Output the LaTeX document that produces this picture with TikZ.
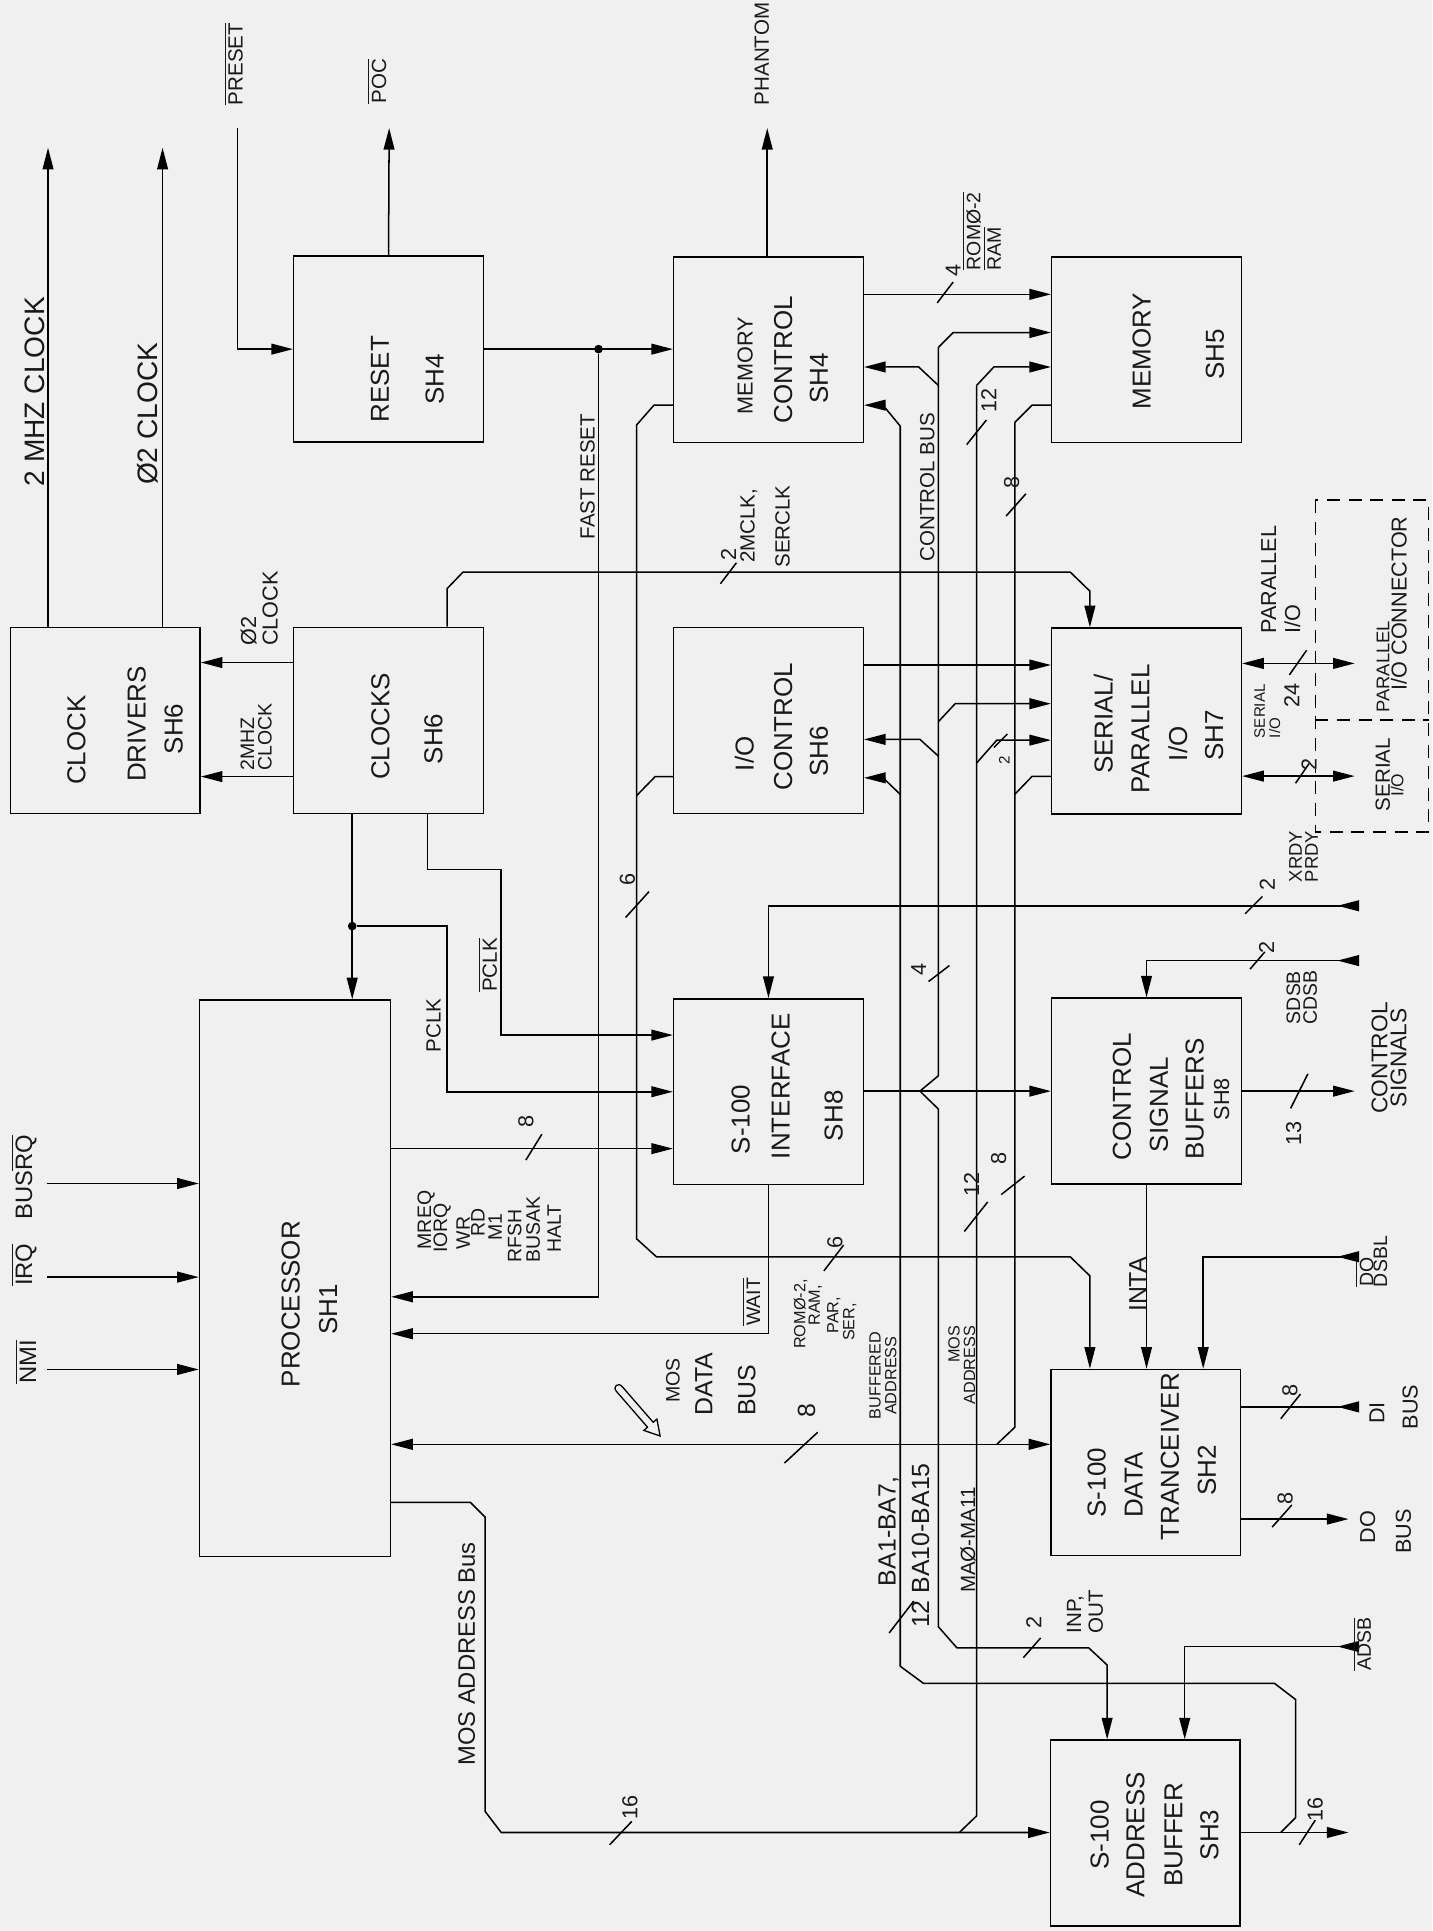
\documentclass[tikz,border=0pt]{standalone}
\usepackage{fontspec}
\setmainfont{Liberation Sans}
\usetikzlibrary{arrows.meta}
\newcounter{txn}
\newcommand\RT[4][]{\stepcounter{txn}\edef\tmpname{tx\arabic{txn}}\node[rt,#1] (\tmpname) at (#2,#3) {#4};}
\newcommand\OL[1]{$\overline{\mbox{#1}}$}
\newcommand\SL[4]{\draw (#1,#2) -- (#3,#4);}
\begin{document}
\begin{tikzpicture}[x=0.02cm,y=-0.02cm,line width=0.7pt,
  blk/.style={draw,minimum width=3.08cm,minimum height=3.02cm,inner sep=0pt},
  arr/.style={-{Triangle[length=10pt,width=5pt]}},
  darr/.style={{Triangle[length=10pt,width=5pt]}-{Triangle[length=10pt,width=5pt]}},
  rt/.style={rotate=90,inner sep=0pt,align=center,text=black!90},
  fb/.style={font=\fontsize{12}{13}\selectfont},
  fbs/.style={font=\fontsize{10}{11}\selectfont},
  fl/.style={font=\fontsize{13}{14}\selectfont},
  fbl/.style={font=\fontsize{11.5}{12}\selectfont},
  fmos/.style={font=\fontsize{11}{12}\selectfont},
  fm/.style={font=\fontsize{9.5}{10}\selectfont},
  fs9/.style={font=\fontsize{9}{7}\selectfont},
  fs/.style={font=\fontsize{7.5}{7.2}\selectfont},
  fn/.style={font=\fontsize{10}{11}\selectfont},
  fns/.style={font=\fontsize{7}{8}\selectfont},
  dbox/.style={dash pattern=on 6pt off 4pt},
  jdot/.style={circle,fill,inner sep=0pt,minimum size=4pt}]
\fill[black!6] (0,0) rectangle (1163,1568);
\useasboundingbox (0,0) rectangle (1163,1568);

% ---------------- blocks
\node[blk] (cdrv) at (85.5,585) {};
\node[blk] (clk) at (315.5,585) {};
\node[blk] (reset) at (315.5,283.5) {};
\node[blk] (memc) at (624,284) {};
\node[blk] (mem) at (931,284) {};
\node[blk] (ioc) at (624,585) {};
\node[blk] (sp) at (931,585.5) {};
\node[draw,minimum width=3.1cm,minimum height=9.04cm,inner sep=0pt] (proc) at (239.5,1038) {};
\node[blk] (s100i) at (624,886.5) {};
\node[blk] (csb) at (931,886) {};
\node[blk] (dtr) at (930.5,1187.5) {};
\node[blk] (abuf) at (930,1488.5) {};
\draw[dbox] (1068,406) rectangle (1160,675.4);
\draw[dbox] (1068,584.7) -- (1160,584.7);

% ---------------- block texts
\RT[fb]{62}{601}{CLOCK}
\RT[fb]{111}{588}{DRIVERS}
\RT[fb]{141}{592}{SH6}
\RT[fb]{309}{590}{CLOCKS}
\RT[fb]{352}{600}{SH6}
\RT[fb]{308.5}{308}{RESET}
\RT[fb]{353}{308}{SH4}
\RT[fbs]{605}{297}{MEMORY}
\RT[fb]{636}{292}{CONTROL}
\RT[fb]{665}{307}{SH4}
\RT[fb]{927}{285}{MEMORY}
\RT[fb]{986.5}{288}{SH5}
\RT[fb]{604.5}{612}{I/O}
\RT[fb]{636}{590}{CONTROL}
\RT[fb]{665}{610}{SH6}
\RT[fb]{896}{588}{SERIAL/}
\RT[fb]{926}{592}{PARALLEL}
\RT[fb]{956.5}{604}{I/O}
\RT[fb]{986}{597}{SH7}
\RT[fb]{236}{1059}{PROCESSOR}
\RT[fb]{266.5}{1063}{SH1}
\RT[fb]{601.5}{909}{S-100}
\RT[fb]{634}{882}{INTERFACE}
\RT[fb]{677}{906}{SH8}
\RT[fb]{911}{890.5}{CONTROL}
\RT[fb]{941}{897}{SIGNAL}
\RT[fb]{970}{892.5}{BUFFERS}
\RT[fbs]{992}{892.5}{SH8}
\RT[fb]{890.5}{1204}{S-100}
\RT[fb]{920.5}{1206}{DATA}
\RT[fb]{950}{1183}{TRANCEIVER}
\RT[fb]{980}{1194}{SH2}
\RT[fb]{893}{1490}{S-100}
\RT[fb]{922}{1490}{ADDRESS}
\RT[fb]{953}{1490}{BUFFER}
\RT[fb]{982}{1490}{SH3}

% ---------------- top outputs and reset
\coordinate (o2mhz) at (39,120);
\draw[arr] (cdrv.north -| 39,0) -- (o2mhz);
\coordinate (ophi) at (132,120);
\draw[arr] (cdrv.north -| 132,0) -- (ophi);
\RT[fl,anchor=south]{37}{318}{2 MHZ CLOCK}
\RT[fl,anchor=south]{129}{336}{Ø2 CLOCK}
\coordinate (ipreset) at (193,104);
\draw[arr] (ipreset) |- (reset.west);
\RT[fm]{189.5}{52}{\OL{PRESET}}
\coordinate (opoc) at (316,104);
\draw[arr] (reset.north) -- (opoc);
\RT[fm]{306}{66}{\OL{POC}}
\coordinate (ophan) at (623,104);
\draw[arr] (memc.north -| 623,0) -- (ophan);
\RT[fm,anchor=west]{618.5}{86}{PHANTOM}

\draw[arr] (reset.east) -- (memc.west |- reset.east);
\node[jdot] (jfr) at (486,283.5) {};
\draw[arr] (jfr) |- (proc.east |- 0,1053);
\RT[fm]{477}{387}{FAST RESET}

% ---------------- clocks
\draw[arr] (clk.west |- 0,538) -- (cdrv.east |- 0,538);
\draw[arr] (clk.west |- 0,630.6) -- (cdrv.east |- 0,630.6);
\RT[font=\fontsize{10}{10}\selectfont,align=left,anchor=west]{210.5}{525}{Ø2\\CLOCK}
\RT[font=\fontsize{9}{8}\selectfont,align=left,anchor=west]{208}{626}{2MHZ\\CLOCK}
\draw[arr] (clk.north -| 363,0) -- (363,478) -- (376,464.5) -- (869,464.5) -- (885,480) -- (sp.north -| 885,0);
\SL{585}{474}{598}{457}
\RT[fn]{591.5}{450}{2}
\RT[fm]{608}{427}{2MCLK,}
\RT[fm]{635.5}{427.5}{SERCLK}
\draw[arr] (clk.south -| 286,0) -- (proc.north -| 286,0);
\node[jdot] (jclk) at (286,752) {};
\draw[arr] (jclk) -- (363,752) |- (s100i.west);
\RT[fm]{352}{832.5}{PCLK}
\draw[arr] (clk.south -| 347,0) -- (347,706) -- (407,706) |- (s100i.west |- 0,840.5);
\RT[fm]{396}{783.5}{\OL{PCLK}}

% ---------------- processor inputs
\draw[arr] (38,961) -- (proc.west |- 0,961);
\draw[arr] (38,1037) -- (proc.west |- 0,1037);
\draw[arr] (38,1112) -- (proc.west |- 0,1112);
\RT[fmos]{19.5}{956}{BUS$\overline{\mbox{RQ}}$}
\RT[fmos]{19.5}{1027}{\OL{IRQ}}
\RT[fmos]{21}{1106}{\OL{NMI}}

% ---------------- processor outputs
\draw[arr] (proc.east |- 0,932.7) -- (s100i.west |- 0,932.7);
\SL{427}{942}{440}{921}
\RT[fn]{427}{911}{8}
\RT[font=\fontsize{9}{9}\selectfont,anchor=west]{346}{1015}{MREQ}
\RT[font=\fontsize{9}{9}\selectfont,anchor=west]{359}{1018}{IORQ}
\RT[font=\fontsize{9}{9}\selectfont,anchor=west]{376}{1015}{WR}
\RT[font=\fontsize{9}{9}\selectfont,anchor=west]{388}{1005}{RD}
\RT[font=\fontsize{9}{9}\selectfont,anchor=west]{402}{1008}{M1}
\RT[font=\fontsize{9}{9}\selectfont,anchor=west]{418}{1026}{RFSH}
\RT[font=\fontsize{9}{9}\selectfont,anchor=west]{433}{1026}{BUSAK}
\RT[font=\fontsize{9}{9}\selectfont,anchor=west]{450}{1018}{HALT}
\draw[arr] (s100i.south) |- (proc.east |- 0,1083);
\RT[fs9]{610}{1057}{\OL{WAIT}}
\draw[darr] (proc.east |- 0,1172.8) -- (dtr.west |- 0,1172.8);
\RT[fs9]{546.5}{1121}{MOS}
\RT[fbl]{571.5}{1124}{DATA}
\RT[fbl]{606.5}{1129}{BUS}
\fill[black!6] (505.3,1126) -- (530.4,1154.9) -- (533.4,1152.3) -- (536,1166) -- (522.8,1161.5) -- (525.8,1158.9) -- (500.7,1130) .. controls (497,1126) and (502,1122) .. cycle;
\draw[line width=0.6pt] (505.3,1126) -- (530.4,1154.9) -- (533.4,1152.3) -- (536,1166) -- (522.8,1161.5) -- (525.8,1158.9) -- (500.7,1130) .. controls (497,1126) and (502,1122) .. cycle;
\SL{637}{1188}{664}{1163}
\RT[fbl]{655}{1145.5}{8}
\draw[arr] (proc.east |- 0,1220) -- (382,1220) -- (394,1232) -- (394,1471) -- (407,1488) -- (abuf.west |- 0,1488);
\RT[fmos]{379}{1343}{MOS ADDRESS Bus}
\SL{495}{1498}{513}{1479}
\RT[fn]{511.5}{1468}{16}

% ---------------- chip select bus (x=517)
\draw[arr] (memc.west |- 0,329) -- (531,329) -- (517,345) -- (517,1006) -- (533,1020.5) -- (869,1020.5) -- (885,1036) -- (dtr.north -| 885,0);
\draw (ioc.west |- 0,630.6) -- (532,630.6) -- (517,646);
\SL{508}{745}{527}{724}
\RT[fn]{509.5}{714}{6}
\SL{669}{1032}{685}{1011}
\RT[fn]{678}{1008.5}{6}
\RT[fs]{650}{1067}{ROMØ-2,}
\RT[fs]{662}{1060}{RAM,}
\RT[fs]{677}{1068}{PAR,}
\RT[fs]{690}{1073.5}{SER,}

% ---------------- buffered address bus (x=731)
\draw[arr] (731,346) -- (717,329) -- (memc.east |- 0,329);
\draw[arr] (731,645) -- (717,631.6) -- (ioc.east |- 0,631.6);
\draw (731,346) -- (731,1353) -- (750,1367) -- (1035,1367) -- (1052,1380) -- (1052,1476) -- (1040,1488);
\RT[fs]{717}{1117}{BUFFERED\\ADDRESS}
\RT[fbl]{721.5}{1243.5}{BA1-BA7,}
\RT[fbl]{747.5}{1255}{12 BA10-BA15}
\SL{722}{1326}{742}{1300}

% ---------------- control bus (x=762)
\draw[arr] (762,282) -- (774,270) -- (mem.west |- 0,270);
\draw[arr] (762,313) -- (746,298) -- (memc.east |- 0,298);
\draw[arr] (762,586) -- (775.6,571.4) -- (sp.west |- 0,571.4);
\draw[arr] (762,614) -- (747,600.4) -- (ioc.east |- 0,600.4);
\draw (762,282) -- (762,873.5) -- (747,886);
\draw[arr] (747,886) -- (762,900.6) -- (762,1321) -- (777,1338) -- (884,1338) -- (899,1352) -- (abuf.north -| 899,0);
\RT[fm]{753}{395.5}{CONTROL BUS}
\SL{754}{797}{771}{784}
\RT[fn]{746}{787}{4}
\draw[arr] (s100i.east |- 0,886) -- (csb.west);
\SL{831}{1346}{845}{1330}
\RT[fn]{839.5}{1317.5}{2}
\RT[fm,align=left,anchor=west]{881}{1327}{INP,\\OUT}

% ---------------- MOS address bus (x=793)
\draw[arr] (793,313) -- (807,298) -- (mem.west |- 0,298);
\draw[arr] (793,619.6) -- (809.4,601) -- (sp.west |- 0,601);
\draw (793,313) -- (793,1474.5) -- (779,1488);
\SL{785}{361}{801}{341}
\RT[fn]{803}{325}{12}
\SL{783}{1000}{802}{976}
\RT[fn]{789}{962}{12}
\SL{807}{607}{818}{596}
\RT[fns]{815.5}{617}{2}
\RT[fs,align=right,anchor=east]{781}{1076}{MOS\\ADDRESS}
\RT[fm]{786}{1250.5}{MAØ-MA11}

% ---------------- data bus (x=824)
\draw (824,343) -- (838,329) -- (mem.west |- 0,329);
\draw (824,645) -- (838,630.5) -- (sp.west |- 0,630.5);
\draw (824,343) -- (824,1159) -- (809.4,1172.8);
\SL{817}{419}{833}{401}
\RT[fn]{821.5}{392}{8}
\SL{813}{970}{832}{955}
\RT[fn]{811}{940.5}{8}

% ---------------- memory control to memory
\draw[arr] (memc.east |- 0,239) -- (mem.west |- 0,239);
\SL{761}{246}{774}{229}
\RT[fn]{774}{220}{4}
\RT[fs9,align=left,anchor=west]{797}{220}{\OL{ROMØ-2}\\\OL{RAM}}

% ---------------- I/O
\draw[arr] (ioc.east |- 0,540) -- (sp.west |- 0,540);
\draw[darr] (sp.east |- 0,538.7) -- (1100,538.7);
\draw[darr] (sp.east |- 0,630.2) -- (1100,630.2);
\SL{1047}{548}{1061}{528}
\RT[fn]{1049}{565}{24}
\SL{1052}{636}{1063}{620}
\RT[fn]{1063}{621}{2}
\RT[fn,align=left,anchor=west]{1040}{515}{PARALLEL\\I/O}
\RT[font=\fontsize{7}{7}\selectfont,align=left,anchor=west]{1029}{600}{SERIAL\\I/O}
\RT[font=\fontsize{8.5}{9}\selectfont]{1123}{541.5}{PARALLEL}
\RT[font=\fontsize{10}{11}\selectfont]{1136}{490}{I/O CONNECTOR}
\RT[fm]{1122.8}{629}{SERIAL}
\RT[font=\fontsize{8}{9}\selectfont]{1134.5}{637.5}{I/O}

% ---------------- S-100 side inputs/outputs
\draw[arr] (1099,735.5) -- (624,735.5) -- (s100i.north);
\draw[arr] (1101,735.5) -- (1086,735.5);
\SL{1011}{742}{1025}{728}
\RT[fn]{1029}{718}{2}
\RT[font=\fontsize{8.5}{9}\selectfont,anchor=west]{1052}{717}{XRDY}
\RT[font=\fontsize{8.5}{9}\selectfont,anchor=west]{1065}{717}{PRDY}
\draw[arr] (1099,780) -- (931,780) -- (csb.north);
\draw[arr] (1101,780) -- (1086,780);
\SL{1015}{787}{1027}{773}
\RT[fn]{1028.5}{769}{2}
\RT[font=\fontsize{9}{7.7}\selectfont]{1057}{810}{SDSB\\CDSB}
\draw[arr] (csb.east) -- (1100,886);
\SL{1048}{900}{1062}{872}
\RT[fn]{1050.5}{920.5}{13}
\RT[font=\fontsize{10.5}{8.8}\selectfont]{1128}{859}{CONTROL\\SIGNALS}
\draw[arr] (csb.south) -- (dtr.north -| csb.south);
\RT[fbl]{924}{1043}{INTA}
\draw[arr] (1098,1020.5) -- (977,1020.5) -- (dtr.north -| 977,0);
\draw[arr] (1100,1020.5) -- (1086,1020.5);
\RT[fs9]{1108}{1033}{\OL{DO}}
\RT[fs9]{1121}{1024.4}{DSBL}
\draw (1098,1142.4) -- (dtr.east |- 0,1142.4);
\draw[arr] (1100,1142.4) -- (1086,1142.4);
\SL{1040}{1152}{1056}{1132}
\RT[fn]{1047.5}{1129}{8}
\RT[fn]{1118}{1147.5}{DI}
\RT[fn]{1145}{1142.5}{BUS}
\draw[arr] (dtr.east |- 0,1233.5) -- (1095,1233.5);
\SL{1033}{1240}{1049}{1222}
\RT[fn]{1043.5}{1216.5}{8}
\RT[fn]{1110.5}{1240}{DO}
\RT[fn]{1139.5}{1243.5}{BUS}
\draw[arr] (1098,1337) -- (962,1337) -- (abuf.north -| 962,0);
\draw[arr] (1100,1337) -- (1086,1337);
\RT[fs9]{1106}{1335}{\OL{ADSB}}
\draw[arr] (abuf.east |- 0,1488) -- (1095,1488);
\SL{1055}{1498}{1068}{1478}
\RT[fn]{1068}{1469}{16}
\end{tikzpicture}
\end{document}
